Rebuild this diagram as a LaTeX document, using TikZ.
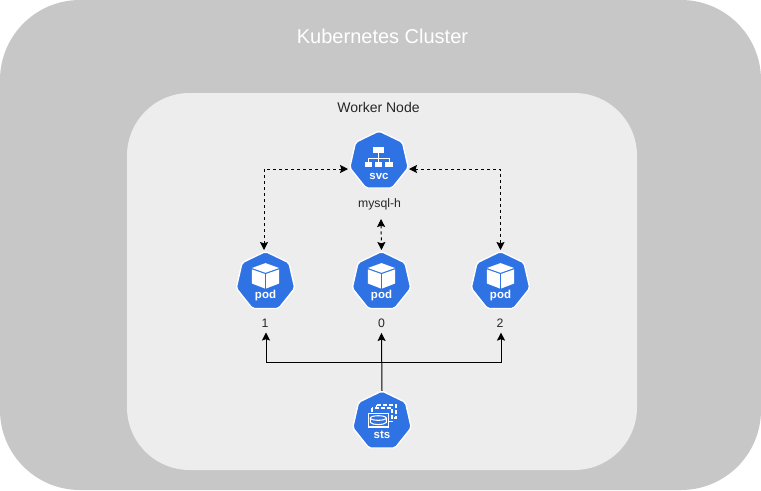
\documentclass[tikz,border=0pt]{standalone}
\usepackage{fontspec}
\setmainfont{Liberation Sans}
\usetikzlibrary{shapes.geometric,arrows.meta}
\definecolor{k8s}{HTML}{2E72E4}
\tikzset{
 x=0.75pt,y=-0.75pt,
 hept/.style={regular polygon,regular polygon sides=7,minimum size=45pt,inner sep=0pt,fill=k8s,draw=white,line width=1pt,rounded corners=1.5pt},
 klabel/.style={text=white,font=\bfseries\fontsize{8.6pt}{9pt}\selectfont,inner sep=0pt},
 small/.style={font=\fontsize{9.2pt}{10pt}\selectfont,text=black!85,inner sep=0pt},
 dashlink/.style={draw=black,line width=0.75pt,dash pattern=on 2.25pt off 2.25pt,{Stealth[length=6pt,width=6pt,inset=1pt]}-{Stealth[length=6pt,width=6pt,inset=1pt]}},
 solidlink/.style={draw=black,line width=0.75pt,-{Stealth[length=6pt,width=6pt,inset=1pt]}},
 icon/.style={fill=white,draw=none},
}
\newcommand{\podicon}[2]{%
 \begin{scope}[shift={(#1,#2)}]
  \fill[icon] (0,-4.9) -- (13.6,0) -- (0,4.8) -- (-13.6,0) -- cycle;
  \fill[icon] (-13.6,1.4) -- (-0.7,5.9) -- (-0.7,20.5) -- (-13.6,15.5) -- cycle;
  \fill[icon] (13.6,1.4) -- (0.7,5.9) -- (0.7,20.5) -- (13.6,15.5) -- cycle;
 \end{scope}}
\begin{document}
\begin{tikzpicture}
\useasboundingbox (0,0) rectangle (761,490);
\fill[white] (0,0) rectangle (761,490);
\fill[fill=black!22,rounded corners=60pt] (0,0) rectangle (761,490);
\fill[fill=black!7,rounded corners=47pt] (127,93) rectangle (637,470);
\node[text=white,font=\fontsize{15pt}{17pt}\selectfont,inner sep=0pt] (title) at (382.5,36) {Kubernetes Cluster};
\node[small,font=\fontsize{10.5pt}{12pt}\selectfont] (worker) at (378.5,107) {Worker Node};

\node[hept] (svc) at (379,161) {};
\node[hept] (pod1) at (265.5,281.5) {};
\node[hept] (pod0) at (381.5,281.5) {};
\node[hept] (pod2) at (500.5,281.5) {};
\node[hept] (sts) at (382,421) {};

% svc icon
\begin{scope}[shift={(379,161.5)}]
 \fill[icon] (-6,-14.8) rectangle (5.3,-8.2);
 \fill[icon] (-14,0.2) rectangle (-6.7,5.2);
 \fill[icon] (-4,0.2) rectangle (3.3,5.2);
 \fill[icon] (6.3,0.2) rectangle (13.7,5.2);
 \draw[white,line width=0.75pt] (-0.3,-8.2) -- (-0.3,0.2) (-10.3,0.2) -- (-10.3,-3.2) -- (10,-3.2) -- (10,0.2);
\end{scope}
\podicon{265.5}{268}\podicon{381.5}{268}\podicon{500.5}{268}
% sts icon
\begin{scope}[shift={(382,421.5)}]
 \draw[white,line width=1pt,dash pattern=on 3pt off 1.5pt] (-5.3,-16.5) rectangle (14,-3.5);
 \draw[white,line width=1pt,dash pattern=on 3pt off 1.5pt,fill=k8s] (-10,-13.5) rectangle (10,0.2);
 \draw[white,line width=1.2pt,fill=k8s] (-13.7,-8.2) rectangle (6.3,5.2);
 \draw[white,line width=0.8pt] (-3.7,-3.5) ellipse (8 and 2.3);
 \draw[white,line width=0.8pt] (-11.7,-3.5) -- (-11.7,1) .. controls (-9,3.8) and (1.6,3.8) .. (4.3,1) -- (4.3,-3.5);
\end{scope}

\node[klabel] at (379,176.5) {svc};
\node[klabel] at (265.5,295.5) {pod};
\node[klabel] at (381.5,295.5) {pod};
\node[klabel] at (500.5,295.5) {pod};
\node[klabel] at (382,435) {sts};

\node[small] (svcname) at (379.5,204) {mysql-h};
\node[small] (n1) at (265,323) {1};
\node[small] (n0) at (381.5,323) {0};
\node[small] (n2) at (500,323) {2};

\coordinate (junction) at (382,362);
\draw[dashlink] ([shift={(-31,8)}]svc.center) -| ([shift={(-1.5,-31.5)}]pod1.center);
\draw[dashlink] ([shift={(30,8)}]svc.center) -| ([shift={(0,-31.5)}]pod2.center);
\draw[dashlink] ([shift={(1.5,15)}]svcname.center) -- ([shift={(0,-31.5)}]pod0.center);
\draw[solidlink] ([yshift=-0.5pt]sts.north) -- ([yshift=-4pt]n0.south);
\draw[solidlink] (junction) -| ([shift={(1,5)}]n1.south);
\draw[solidlink] (junction) -| ([shift={(1,5)}]n2.south);
\end{tikzpicture}
\end{document}
